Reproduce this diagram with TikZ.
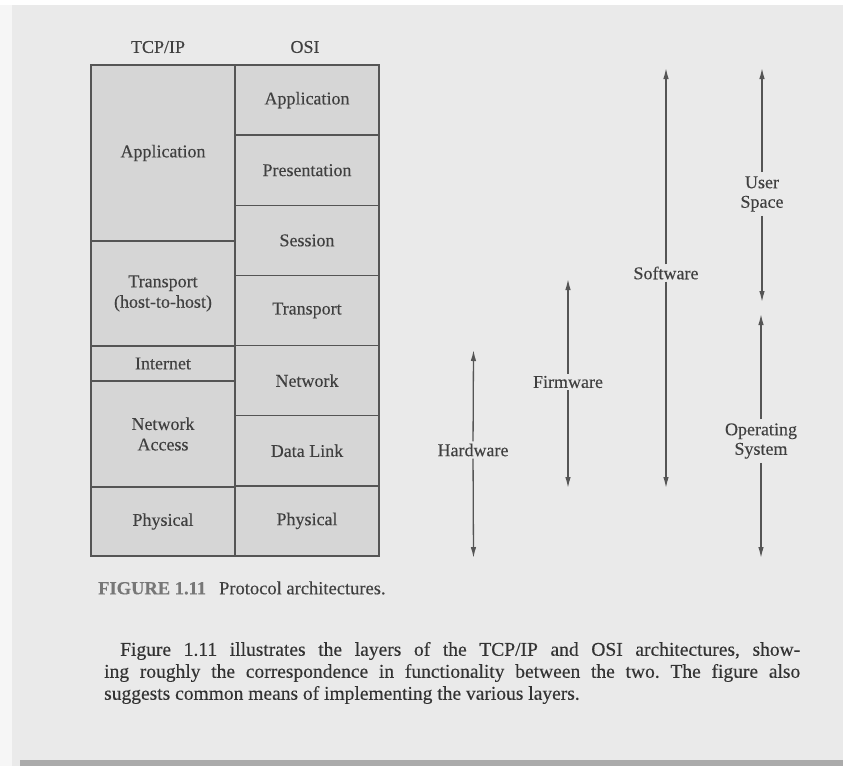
\documentclass[tikz,border=0pt]{standalone}
\usepackage{fontspec}
\setmainfont{Liberation Serif}[FakeBold=0.25]
\usetikzlibrary{arrows.meta}
\definecolor{paper}{HTML}{EAEAEA}
\definecolor{edge}{HTML}{F6F6F6}
\definecolor{layerfill}{HTML}{D6D6D6}
\definecolor{rule}{HTML}{555555}
\definecolor{ink}{HTML}{404040}
\definecolor{bodyink}{HTML}{333333}
\definecolor{capink}{HTML}{777777}
\frenchspacing
\begin{document}
\begin{tikzpicture}[x=1pt,y=-1pt,
  lbl/.style={font=\fontsize{18}{19.5}\selectfont, text=ink, align=center},
  layer/.style={lbl, draw=rule, line width=1.4pt, fill=layerfill,
    minimum width=144pt, inner sep=0pt, rectangle},
  impl/.style={draw=rule, line width=1.3pt, -{Latex[length=11pt,width=5.5pt]}},
  implabel/.style={lbl, inner sep=2pt},
  bodyline/.style={anchor=west, font=\fontsize{19.5}{22}\selectfont, text=bodyink, inner sep=0pt}
]
% page
\useasboundingbox (0,0) rectangle (843,766);
\fill[white] (0,0) rectangle (843,766);
\fill[edge] (0,5) rectangle (843,766);
\fill[paper] (12,5) rectangle (843,766);
\fill[black!33] (20,760) rectangle (843,766);

% column headings
\node[lbl] (hTCP) at (158,47) {TCP/IP};
\node[lbl] (hOSI) at (305,47) {OSI};

% TCP/IP stack
\node[layer, minimum height=176pt] (tApp)  at (163,153)   {Application};
\node[layer, minimum height=105pt] (tTr)   at (163,293.5) {Transport\\[1pt](host-to-host)};
\node[layer, minimum height=35pt]  (tInt)  at (163,363.5) {Internet};
\node[layer, minimum height=106pt] (tNA)   at (163,434)   {Network\\[1pt]Access};
\node[layer, minimum height=69pt]  (tPhy)  at (163,521.5) {Physical};

% OSI stack
\node[layer, minimum height=70.14pt] (oApp) at (307,100.1) {Application};
\node[layer, minimum height=70.14pt] (oPre) at (307,170.2) {Presentation};
\node[layer, minimum height=70.14pt] (oSes) at (307,240.4) {Session};
\node[layer, minimum height=70.14pt] (oTr)  at (307,310.5) {Transport};
\node[layer, minimum height=70.14pt] (oNet) at (307,380.6) {Network};
\node[layer, minimum height=70.14pt] (oDL)  at (307,450.8) {Data Link};
\node[layer, minimum height=70.14pt] (oPhy) at (307,520.9) {Physical};

% means of implementation
\node[implabel] (hw) at (473,450) {Hardware};
\coordinate (hwTop) at (473.5,350);
\coordinate (hwBot) at (473.5,558);
\draw[impl] (hw) -- (hwTop);
\draw[impl] (hw) -- (hwBot);

\node[implabel] (fw) at (568,382) {Firmware};
\coordinate (fwTop) at (568,279);
\coordinate (fwBot) at (568,488);
\draw[impl] (fw) -- (fwTop);
\draw[impl] (fw) -- (fwBot);

\node[implabel] (sw) at (666,273) {Software};
\coordinate (swTop) at (666,68);
\coordinate (swBot) at (666,488);
\draw[impl] (sw) -- (swTop);
\draw[impl] (sw) -- (swBot);

\node[implabel, inner sep=4pt] (us) at (762,194) {User\\Space};
\coordinate (usTop) at (762,68);
\coordinate (usBot) at (762,302);
\draw[impl] (us) -- (usTop);
\draw[impl] (us) -- (usBot);

\node[implabel, inner sep=4pt] (os) at (761,441) {Operating\\System};
\coordinate (osTop) at (761,314);
\coordinate (osBot) at (761,558);
\draw[impl] (os) -- (osTop);
\draw[impl] (os) -- (osBot);

% caption
\node[anchor=west, inner sep=0pt, font=\fontsize{18.5}{20}\selectfont] (cap) at (98,588)
  {\textcolor{capink}{\bfseries FIGURE 1.11}\hspace{13pt}\textcolor{ink}{Protocol architectures.}};

% body text
\node[bodyline] (p1) at (120,651) {\makebox[680pt][s]{Figure 1.11 illustrates the layers of the TCP/IP and OSI architectures, show-}};
\node[bodyline] (p2) at (104,673) {\makebox[696pt][s]{ing roughly the correspondence in functionality between the two. The figure also}};
\node[bodyline] (p3) at (104,695) {suggests common means of implementing the various layers.};
\end{tikzpicture}
\end{document}
